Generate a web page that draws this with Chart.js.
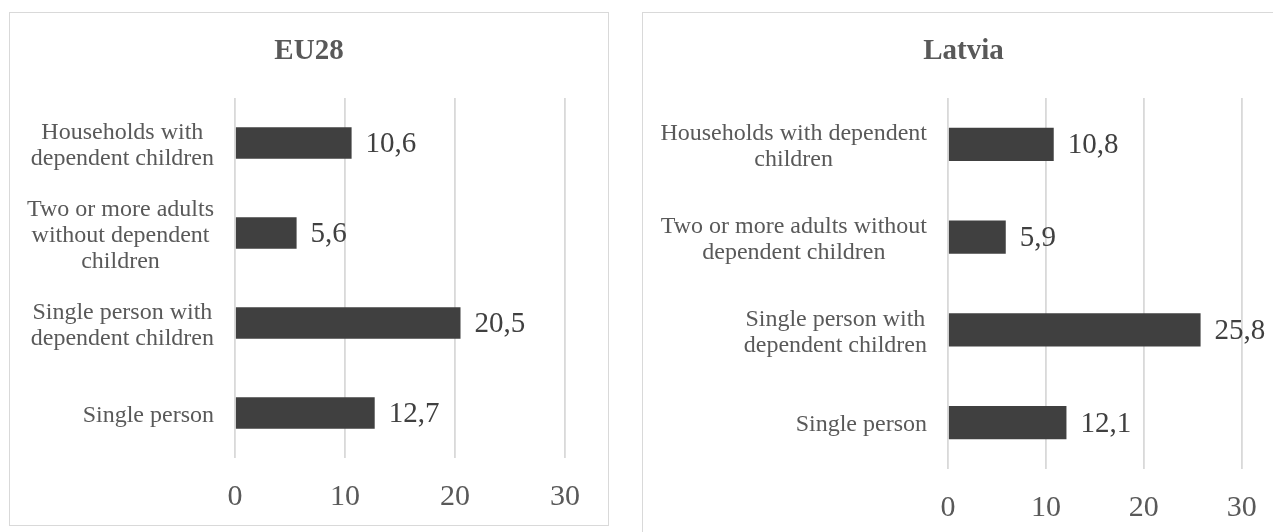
<!DOCTYPE html>
<html>
<head>
<meta charset="utf-8">
<script src="https://cdn.jsdelivr.net/npm/chart.js@4"></script>
<style>
  html, body { margin: 0; padding: 0; background: #ffffff; width: 1273px; height: 532px; overflow: hidden; }
  .frame { position: absolute; box-sizing: border-box; border: 1px solid #d9d9d9; background: #fff; }
  #f1 { left: 9px; top: 12px; width: 600px; height: 514px; }
  #f2 { left: 642px; top: 12px; width: 643px; height: 560px; }
  canvas { display: block; }
</style>
</head>
<body>
<div class="frame" id="f1"><canvas id="c1" width="598" height="512" style="width:598px;height:512px"></canvas></div>
<div class="frame" id="f2"><canvas id="c2" width="641" height="540" style="width:641px;height:540px"></canvas></div>
<script>
// ---- data ----
const euLabels = [
  ["Households with", "dependent children"],
  ["Two or more adults", "without dependent", "children"],
  ["Single person with", "dependent children"],
  ["Single person"]
];
const lvLabels = [
  ["Households with dependent", "children"],
  ["Two or more adults without", "dependent children"],
  ["Single person with", "dependent children"],
  ["Single person"]
];
const euValues = [10.6, 5.6, 20.5, 12.7];
const lvValues = [10.8, 5.9, 25.8, 12.1];
const xTicks = [0, 10, 20, 30];
const titles = ["EU28", "Latvia"];

const SERIF = '"Liberation Serif", "Times New Roman", serif';

const labelPlugin = {
  id: 'customLabels',
  afterDatasetsDraw(chart) {
    const ctx = chart.ctx;
    // value labels
    const meta = chart.getDatasetMeta(0);
    ctx.save();
    ctx.font = '29px ' + SERIF;
    ctx.fillStyle = '#404040';
    ctx.textAlign = 'left';
    ctx.textBaseline = 'middle';
    meta.data.forEach((bar, i) => {
      const v = chart.data.datasets[0].data[i];
      ctx.fillText(v.toFixed(1).replace('.', ','), bar.x + 14, bar.y + 1.5);
    });
    ctx.restore();
    // category labels: block right-aligned, lines centred within block
    const ys = chart.scales.y;
    const cats = chart.data.labels;
    ctx.save();
    ctx.font = '24px ' + SERIF;
    ctx.fillStyle = '#595959';
    ctx.textAlign = 'center';
    ctx.textBaseline = 'middle';
    const lineH = 26;
    cats.forEach((lines, i) => {
      const p = ys.getPixelForTick(i) + 2.5;
      const w = Math.max(...lines.map(l => ctx.measureText(l).width));
      const xc = ys.right - 21 - w / 2;
      const y0 = p - (lines.length - 1) * lineH / 2;
      lines.forEach((l, k) => ctx.fillText(l, xc, y0 + k * lineH));
    });
    ctx.restore();
  }
};

function makeChart(id, labels, values, title, pad, yWidth, padBottom, barPct) {
  return new Chart(document.getElementById(id), {
    type: 'bar',
    data: {
      labels: labels,
      datasets: [{
        data: values,
        backgroundColor: '#404040',
        borderWidth: 0,
        barPercentage: barPct,
        categoryPercentage: 1
      }]
    },
    options: {
      indexAxis: 'y',
      responsive: false,
      animation: false,
      events: [],
      layout: { padding: { left: pad, right: pad, top: 0, bottom: padBottom } },
      plugins: {
        legend: { display: false },
        tooltip: { enabled: false },
        title: {
          display: true,
          text: title,
          color: '#595959',
          font: { family: SERIF, size: 29, weight: 'bold', lineHeight: 1.2 },
          padding: { top: 21.2, bottom: 29 }
        }
      },
      scales: {
        x: {
          min: 0,
          max: 30,
          afterBuildTicks: (s) => { s.ticks = xTicks.map(v => ({ value: v })); },
          afterFit: (s) => { s.height = 55; },
          border: { display: false },
          grid: { color: '#d9d9d9', lineWidth: 1.8, drawTicks: false },
          ticks: {
            color: '#595959',
            padding: 21,
            font: { family: SERIF, size: 30, lineHeight: 1.2 }
          }
        },
        y: {
          afterFit: (s) => { s.width = yWidth; },
          border: { display: false },
          grid: { display: false, drawTicks: false },
          ticks: { display: false }
        }
      }
    },
    plugins: [labelPlugin]
  });
}

makeChart('c1', euLabels, euValues, titles[0], 43, 182, 12, 0.352);
makeChart('c2', lvLabels, lvValues, titles[1], 42.3, 262.7, 29, 0.356);
</script>
</body>
</html>
